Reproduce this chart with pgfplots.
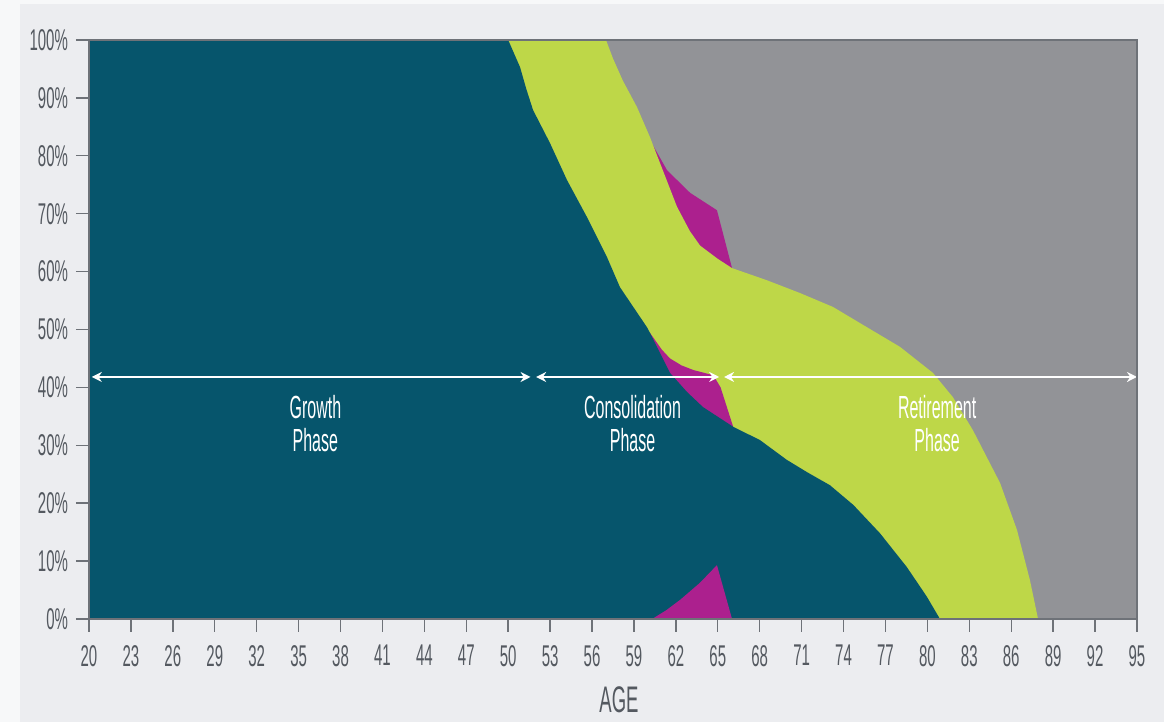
\documentclass[border=0pt]{standalone}
\usepackage{fontspec}
\setmainfont{Liberation Sans}[FakeStretch=0.5]
\usepackage{pgfplots}
\pgfplotsset{compat=1.18}
\usetikzlibrary{arrows.meta}
\definecolor{cteal}{RGB}{6,85,108}
\definecolor{clime}{RGB}{190,215,72}
\definecolor{cmag}{RGB}{172,32,142}
\definecolor{cgray}{RGB}{146,147,151}
\definecolor{bgc}{RGB}{236,237,240}
\definecolor{labc}{RGB}{84,89,96}
\definecolor{axc}{RGB}{110,114,120}
\begin{document}
\begin{tikzpicture}
\fill[bgc] (0,0) rectangle (582pt,361pt);
\fill[white!60!bgc] (0,0) rectangle (10pt,361pt);
\fill[white!60!bgc] (0,359pt) rectangle (582pt,361pt);
\begin{axis}[
  at={(44.5pt,51.5pt)}, anchor=south west,
  scale only axis, width=524pt, height=289.5pt,
  xmin=20, xmax=95, ymin=0, ymax=100,
  axis background/.style={fill=cgray},
  axis on top,
  axis line style={draw=axc, line width=0.7pt},
  xtick={20,23,...,95},
  ytick={0,10,...,100},
  yticklabel={\pgfmathprintnumber{\tick}\%},
  /pgf/number format/assume math mode=true,
  tick align=outside,
  major tick length=6.5pt,
  tick style={draw=axc, line width=0.7pt},
  xtick pos=bottom, ytick pos=left,
  ticklabel style={font=\fontsize{15}{17}\selectfont, text=labc},
  xticklabel style={yshift=-3pt},
  yticklabel style={xshift=-0.5pt},
  xlabel={AGE},
  xlabel style={at={(axis description cs:0.5,0)}, anchor=center, yshift=-40.5pt, xshift=3pt,
    font=\fontsize{18.5}{20}\selectfont, text=labc},
]
% upper magenta (top envelope between 60 and 66)
\addplot[draw=none, fill=cmag] coordinates {
(60.15,82.7) (61.37,77.5) (63.02,73.6) (64.94,70.6) (66.02,60.6)
} \closedcycle;
% lime top
\addplot[draw=none, fill=clime] coordinates {
(20,100) (57.0,100) (57.5,96.8) (58.2,93.0) (59.22,88.4) (60.15,83.2) (62.08,71.2)
(63.0,67.0) (63.73,64.5) (65.0,62.2) (66.02,60.6) (68.52,58.5) (70.88,56.3) (73.24,53.9) (75.67,50.4)
(78.04,47.0) (80.40,42.5) (81.83,38.3) (83.26,32.6) (85.20,23.5) (86.41,15.4)
(87.34,6.7) (87.92,0)
} \closedcycle;
% middle magenta (lime bottom)
\addplot[draw=none, fill=cmag] coordinates {
(60.15,49.4) (61.0,46.5) (61.58,45.0) (62.4,43.8) (63.25,43.0) (64.68,42.1) (65.2,40.0) (66.1,33.2)
} \closedcycle;
% teal top
\addplot[draw=none, fill=cteal] coordinates {
(20,100) (50.0,100) (50.85,95.3) (51.3,91.5) (51.78,87.9) (52.99,82.2) (54.21,75.8)
(55.64,69.4) (57.07,62.5) (58.0,57.3) (59.93,50.4) (60.15,49.4) (61.58,42.5)
(62.8,39.2) (63.94,36.6) (66.1,33.2) (68.02,30.9) (69.93,27.5) (71.36,25.4) (73.03,23.1)
(74.70,19.7) (76.61,14.8) (78.52,9.0) (79.95,3.9) (80.90,0)
} \closedcycle;
% bottom magenta
\addplot[draw=none, fill=cmag] coordinates {
(60.3,0) (61.3,1.5) (62.3,3.3) (63.7,6.2) (64.94,9.3) (66.02,0)
} \closedcycle;
% phase arrows
\draw[white, line width=1pt, {Stealth[length=5pt,width=5pt]}-{Stealth[length=5pt,width=5pt]}]
  (axis cs:20.2,41.8) -- (axis cs:51.6,41.8);
\draw[white, line width=1pt, {Stealth[length=5pt,width=5pt]}-{Stealth[length=5pt,width=5pt]}]
  (axis cs:52.0,41.8) -- (axis cs:65.1,41.8);
\draw[white, line width=1pt, {Stealth[length=5pt,width=5pt]}-{Stealth[length=5pt,width=5pt]}]
  (axis cs:65.45,41.8) -- (axis cs:95,41.8);
\node[white, align=center, font=\fontsize{16}{16.5}\selectfont] at (axis cs:36.2,33.8) {Growth\\Phase};
\node[white, align=center, font=\fontsize{16}{16.5}\selectfont] at (axis cs:58.9,33.8) {Consolidation\\Phase};
\node[white, align=center, font=\fontsize{16}{16.5}\selectfont] at (axis cs:80.7,33.8) {Retirement\\Phase};
\end{axis}
\end{tikzpicture}
\end{document}
